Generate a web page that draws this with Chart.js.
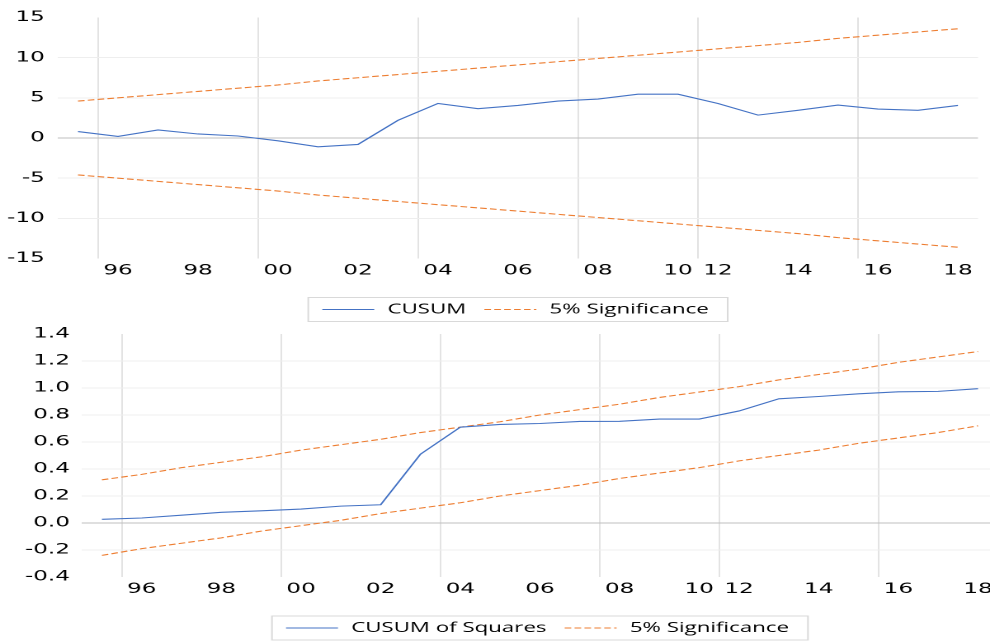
<!DOCTYPE html>
<html>
<head>
<meta charset="utf-8">
<script src="https://cdn.jsdelivr.net/npm/chart.js@4.4.1/dist/chart.umd.min.js"></script>
<style>
  html, body { margin: 0; padding: 0; width: 990px; height: 641px; overflow: hidden; background: #fff; }
  /* the reference is stretched sideways, so draw narrow and stretch the same way */
  .stretch { position: absolute; left: 0; transform: scaleX(1.65); transform-origin: 0 0; }
  #top-wrap { top: 0; width: 600px; height: 330px; }
  #bottom-wrap { top: 316px; width: 612px; height: 340px; }
</style>
</head>
<body>
<div id="top-wrap" class="stretch"><canvas id="chart-cusum"></canvas></div>
<div id="bottom-wrap" class="stretch"><canvas id="chart-cusumsq"></canvas></div>
<script>
// Observations (2011 is missing in the sample)
const years = [1995, 1996, 1997, 1998, 1999, 2000, 2001, 2002, 2003, 2004, 2005, 2006,
  2007, 2008, 2009, 2010, 2012, 2013, 2014, 2015, 2016, 2017, 2018];
const tickLabels = ["", "96", "", "98", "", "00", "", "02", "", "04", "", "06",
  "", "08", "", "10", "12", "", "14", "", "16", "", "18"];
// vertical gridlines sit just before these years
const gridYears = [1996, 2000, 2004, 2008, 2012, 2016];

// CUSUM test
const cusum = [0.8, 0.2, 1.0, 0.5, 0.25, -0.35, -1.1, -0.8, 2.2, 4.3, 3.65, 4.05,
  4.6, 4.85, 5.45, 5.45, 4.3, 2.85, 3.45, 4.1, 3.6, 3.45, 4.05];
const cusumUpper = [4.6, 5.0, 5.4, 5.8, 6.2, 6.6, 7.1, 7.5, 7.9, 8.3, 8.7, 9.1,
  9.5, 9.9, 10.3, 10.7, 11.1, 11.5, 11.9, 12.4, 12.8, 13.2, 13.6];
const cusumLower = [-4.6, -5.0, -5.4, -5.8, -6.2, -6.6, -7.1, -7.5, -7.9, -8.3, -8.7, -9.1,
  -9.5, -9.9, -10.3, -10.7, -11.1, -11.5, -11.9, -12.4, -12.8, -13.2, -13.6];

// CUSUM of squares test
const cusumSq = [0.027, 0.037, 0.058, 0.079, 0.09, 0.103, 0.125, 0.135, 0.51, 0.71, 0.73, 0.737,
  0.752, 0.753, 0.77, 0.77, 0.83, 0.92, 0.937, 0.957, 0.972, 0.975, 0.995];
const cusumSqUpper = [0.32, 0.36, 0.41, 0.45, 0.49, 0.54, 0.58, 0.62, 0.67, 0.71, 0.75, 0.80,
  0.84, 0.88, 0.93, 0.97, 1.01, 1.06, 1.10, 1.14, 1.19, 1.23, 1.27];
const cusumSqLower = [-0.24, -0.19, -0.15, -0.11, -0.06, -0.02, 0.02, 0.07, 0.11, 0.15, 0.20, 0.24,
  0.28, 0.33, 0.37, 0.41, 0.46, 0.50, 0.54, 0.59, 0.63, 0.67, 0.72];

const BLUE = "#4472C4";
const ORANGE = "#ED7D31";

Chart.defaults.font.family = "'DejaVu Sans'";
Chart.defaults.color = "#000";

// Boxed legend under the plot, like the Excel one
const legendBox = {
  id: "legendBox",
  afterDraw(chart) {
    const { ctx, chartArea } = chart;
    const items = chart.data.datasets.slice(0, 2);
    ctx.save();
    ctx.font = "13.5px 'Open Sans'";
    const widths = items.map(ds => ctx.measureText(ds.label).width);
    const sample = 31.5, gap = 8, spacing = 11, padL = 8.5, padR = 11.5;
    const total = padL + widths.reduce((s, w) => s + sample + gap + w, 0) + spacing + padR;
    let x = (chartArea.left + chartArea.right) / 2 - total / 2;
    const y = chartArea.bottom + 51;
    ctx.strokeStyle = "#d9d9d9";
    ctx.lineWidth = 1;
    ctx.strokeRect(x, y - 12, total, 24);
    x += padL;
    items.forEach((ds, i) => {
      ctx.beginPath();
      ctx.strokeStyle = ds.borderColor;
      ctx.lineWidth = ds.borderWidth;
      ctx.setLineDash(ds.borderDash || []);
      ctx.moveTo(x, y);
      ctx.lineTo(x + sample, y);
      ctx.stroke();
      ctx.setLineDash([]);
      x += sample + gap;
      ctx.fillStyle = "#000";
      ctx.textBaseline = "middle";
      ctx.fillText(ds.label, x, y);
      x += widths[i] + spacing;
    });
    ctx.restore();
  }
};

function renderChart(canvasId, name, values, upper, lower, yAxis, axisWidth, padding) {
  const ctx = document.getElementById(canvasId).getContext("2d");
  const band = { borderColor: ORANGE, borderWidth: 1.1, borderDash: [4, 2], pointRadius: 0, fill: false, tension: 0 };

  new Chart(ctx, {
    type: "line",
    data: {
      labels: years,
      datasets: [
        { label: name, data: values, borderColor: BLUE, borderWidth: 1.1, pointRadius: 0, fill: false, tension: 0 },
        { label: "5% Significance", data: upper, ...band },
        { label: "5% Significance", data: lower, ...band }
      ]
    },
    options: {
      responsive: true,
      maintainAspectRatio: false,
      animation: false,
      devicePixelRatio: 2,
      layout: { padding: padding },
      plugins: { legend: { display: false }, tooltip: { enabled: false } },
      scales: {
        x: {
          type: "category",
          offset: true,
          border: { display: false },
          grid: {
            offset: true,
            drawTicks: false,
            lineWidth: 1,
            color: (c) => (c.tick && gridYears.includes(years[c.index])) ? "#e3e3e3" : "rgba(0,0,0,0)"
          },
          ticks: {
            autoSkip: false,
            maxRotation: 0,
            padding: 4,
            font: { size: 14 },
            callback: (v, i) => tickLabels[i]
          },
          afterFit: (scale) => { scale.height = 20; }
        },
        y: {
          min: yAxis.min,
          max: yAxis.max,
          border: { display: false },
          grid: {
            drawTicks: false,
            color: (c) => {
              const v = c.tick ? c.tick.value : null;
              if (v === null) return "rgba(0,0,0,0)";
              if (Math.abs(v) < 1e-9) return "#bfbfbf";
              if (Math.abs(v - yAxis.min) < 1e-9 || Math.abs(v - yAxis.max) < 1e-9) return "rgba(0,0,0,0)";
              return "#eeeeee";
            }
          },
          ticks: {
            stepSize: yAxis.step,
            padding: yAxis.padding,
            font: { size: 14 },
            callback: (v) => (Math.abs(v) < 1e-9 ? 0 : Number(v)).toFixed(yAxis.decimals)
          },
          afterFit: (scale) => { scale.width = axisWidth; }
        }
      }
    },
    plugins: [legendBox]
  });
}

renderChart("chart-cusum", "CUSUM", cusum, cusumUpper, cusumLower,
  { min: -15, max: 15, step: 5, decimals: 0, padding: 8 }, 35.15,
  { top: 17.5, bottom: 51.5, left: 0, right: 7.3 });

renderChart("chart-cusumsq", "CUSUM of Squares", cusumSq, cusumSqUpper, cusumSqLower,
  { min: -0.4, max: 1.4, step: 0.2, decimals: 1, padding: 7.3 }, 49.7,
  { top: 18, bottom: 59, left: 0, right: 7.2 });
</script>
</body>
</html>
